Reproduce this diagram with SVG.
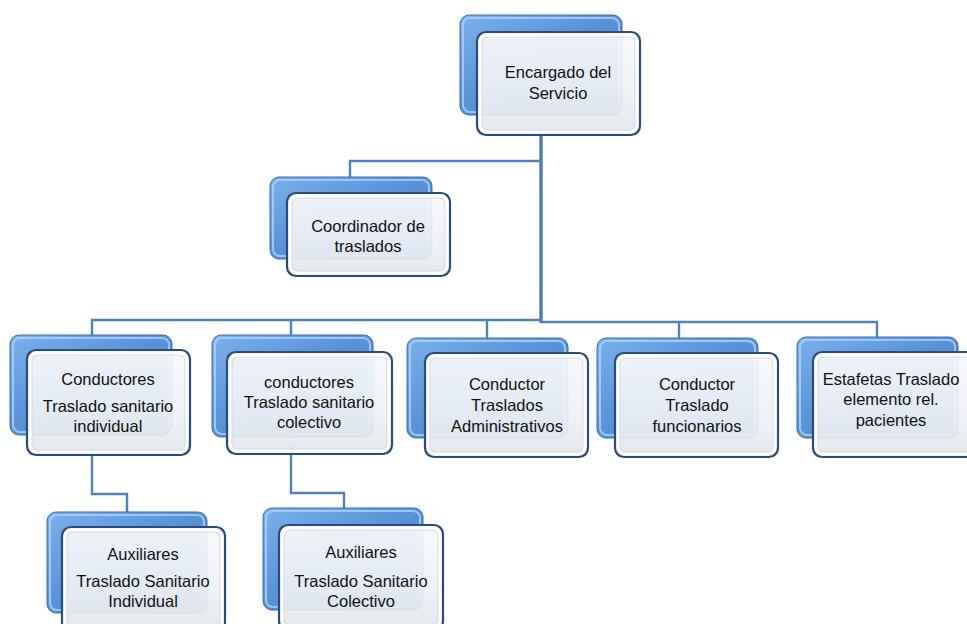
<svg xmlns="http://www.w3.org/2000/svg" width="967" height="624" viewBox="0 0 967 624">
  <defs>
    <linearGradient id="gBack" x1="0" y1="0" x2="1" y2="1">
      <stop offset="0" stop-color="#7cb0ea"/>
      <stop offset="0.45" stop-color="#5a93d8"/>
      <stop offset="1" stop-color="#4a80c6"/>
    </linearGradient>
    <linearGradient id="gFront" x1="0" y1="0" x2="0" y2="1">
      <stop offset="0" stop-color="#f8f9fb"/>
      <stop offset="0.6" stop-color="#eef1f5"/>
      <stop offset="1" stop-color="#e2e6ec"/>
    </linearGradient>
    <style>
      .back { fill: url(#gBack); stroke: #3d6ea9; stroke-width: 1; }
      .backhi { fill: none; stroke: #b3d6fa; stroke-width: 2; opacity: 0.75; }
      .front { fill: url(#gFront); fill-opacity: 0.93; stroke: #2b4c78; stroke-width: 2.2; }
      .fronthi { fill: none; stroke: #ffffff; stroke-width: 3; opacity: 0.85; }
      .frontsh { fill: none; stroke: #d3d8df; stroke-width: 1.5; opacity: 0.7; }
      .lbl { font-family: "Liberation Sans", Arial, sans-serif; font-size: 16.5px; fill: #111111; text-anchor: middle; }
      .conn { fill: none; stroke: #4f81bd; stroke-width: 2.4; }
      .trunk { fill: none; stroke: #4a7cb8; stroke-width: 3.4; }
    </style>
  </defs>

  <!-- connectors -->
  <g id="connectors">
    <path class="trunk" d="M541 128 V323"/>
    <path class="conn" d="M541 161 H350 V178"/>
    <path class="conn" d="M92 336 V320 H541"/>
    <path class="conn" d="M541 322 H877 V338"/>
    <path class="conn" d="M291 320.5 V336"/>
    <path class="conn" d="M487 321 V339"/>
    <path class="conn" d="M679 322 V339"/>
    <path class="conn" d="M92 448 V494 H127 V513"/>
    <path class="conn" d="M291 446 V493 H344 V509"/>
  </g>

  <!-- top -->
  <g id="encargado">
    <rect class="back" x="460" y="15" width="162" height="100" rx="9"/>
    <rect class="backhi" x="463" y="18" width="156" height="94" rx="7"/>
    <rect class="front" x="477" y="32" width="163" height="103" rx="9"/>
    <rect class="frontsh" x="482" y="37" width="153" height="93" rx="6"/>
    <rect class="fronthi" x="480" y="35" width="157" height="97" rx="7"/>
    <text class="lbl" x="558" y="78">Encargado del</text>
    <text class="lbl" x="558" y="99">Servicio</text>
  </g>

  <g id="coordinador">
    <rect class="back" x="270" y="177" width="162" height="82" rx="9"/>
    <rect class="backhi" x="273" y="180" width="156" height="76" rx="7"/>
    <rect class="front" x="287" y="193" width="163" height="83" rx="9"/>
    <rect class="frontsh" x="292" y="198" width="153" height="73" rx="6"/>
    <rect class="fronthi" x="290" y="196" width="157" height="77" rx="7"/>
    <text class="lbl" x="368" y="232">Coordinador de</text>
    <text class="lbl" x="368" y="252">traslados</text>
  </g>

  <g id="cond-individual">
    <rect class="back" x="10" y="335" width="162" height="100" rx="9"/>
    <rect class="backhi" x="13" y="338" width="156" height="94" rx="7"/>
    <rect class="front" x="27" y="350" width="163" height="105" rx="9"/>
    <rect class="frontsh" x="32" y="355" width="153" height="95" rx="6"/>
    <rect class="fronthi" x="30" y="353" width="157" height="99" rx="7"/>
    <text class="lbl" x="108" y="385">Conductores</text>
    <text class="lbl" x="108" y="412">Traslado sanitario</text>
    <text class="lbl" x="108" y="432">individual</text>
  </g>

  <g id="cond-colectivo">
    <rect class="back" x="212" y="335" width="161" height="102" rx="9"/>
    <rect class="backhi" x="215" y="338" width="155" height="96" rx="7"/>
    <rect class="front" x="227" y="352" width="165" height="102" rx="9"/>
    <rect class="frontsh" x="232" y="357" width="155" height="92" rx="6"/>
    <rect class="fronthi" x="230" y="355" width="159" height="96" rx="7"/>
    <text class="lbl" x="309" y="388">conductores</text>
    <text class="lbl" x="309" y="408">Traslado sanitario</text>
    <text class="lbl" x="309" y="428">colectivo</text>
  </g>

  <g id="cond-administrativos">
    <rect class="back" x="407" y="338" width="161" height="100" rx="9"/>
    <rect class="backhi" x="410" y="341" width="155" height="94" rx="7"/>
    <rect class="front" x="425" y="353" width="163" height="104" rx="9"/>
    <rect class="frontsh" x="430" y="358" width="153" height="94" rx="6"/>
    <rect class="fronthi" x="428" y="356" width="157" height="98" rx="7"/>
    <text class="lbl" x="507" y="390">Conductor</text>
    <text class="lbl" x="507" y="411">Traslados</text>
    <text class="lbl" x="507" y="432">Administrativos</text>
  </g>

  <g id="cond-funcionarios">
    <rect class="back" x="597" y="338" width="161" height="100" rx="9"/>
    <rect class="backhi" x="600" y="341" width="155" height="94" rx="7"/>
    <rect class="front" x="615" y="353" width="163" height="104" rx="9"/>
    <rect class="frontsh" x="620" y="358" width="153" height="94" rx="6"/>
    <rect class="fronthi" x="618" y="356" width="157" height="98" rx="7"/>
    <text class="lbl" x="697" y="390">Conductor</text>
    <text class="lbl" x="697" y="411">Traslado</text>
    <text class="lbl" x="697" y="432">funcionarios</text>
  </g>

  <g id="estafetas">
    <rect class="back" x="797" y="337" width="161" height="101" rx="9"/>
    <rect class="backhi" x="800" y="340" width="155" height="95" rx="7"/>
    <rect class="front" x="813" y="352" width="163" height="105" rx="9"/>
    <rect class="frontsh" x="818" y="357" width="153" height="95" rx="6"/>
    <rect class="fronthi" x="816" y="355" width="157" height="99" rx="7"/>
    <text class="lbl" x="891" y="385">Estafetas Traslado</text>
    <text class="lbl" x="891" y="405">elemento rel.</text>
    <text class="lbl" x="891" y="426">pacientes</text>
  </g>

  <g id="aux-individual">
    <rect class="back" x="47" y="512" width="160" height="101" rx="9"/>
    <rect class="backhi" x="50" y="515" width="154" height="95" rx="7"/>
    <rect class="front" x="62" y="527" width="163" height="105" rx="9"/>
    <rect class="frontsh" x="67" y="532" width="153" height="95" rx="6"/>
    <rect class="fronthi" x="65" y="530" width="157" height="99" rx="7"/>
    <text class="lbl" x="143" y="560">Auxiliares</text>
    <text class="lbl" x="143" y="587">Traslado Sanitario</text>
    <text class="lbl" x="143" y="607">Individual</text>
  </g>

  <g id="aux-colectivo">
    <rect class="back" x="263" y="508" width="160" height="102" rx="9"/>
    <rect class="backhi" x="266" y="511" width="154" height="96" rx="7"/>
    <rect class="front" x="279" y="525" width="164" height="105" rx="9"/>
    <rect class="frontsh" x="284" y="530" width="154" height="95" rx="6"/>
    <rect class="fronthi" x="282" y="528" width="158" height="99" rx="7"/>
    <text class="lbl" x="361" y="558">Auxiliares</text>
    <text class="lbl" x="361" y="587">Traslado Sanitario</text>
    <text class="lbl" x="361" y="607">Colectivo</text>
  </g>
</svg>
